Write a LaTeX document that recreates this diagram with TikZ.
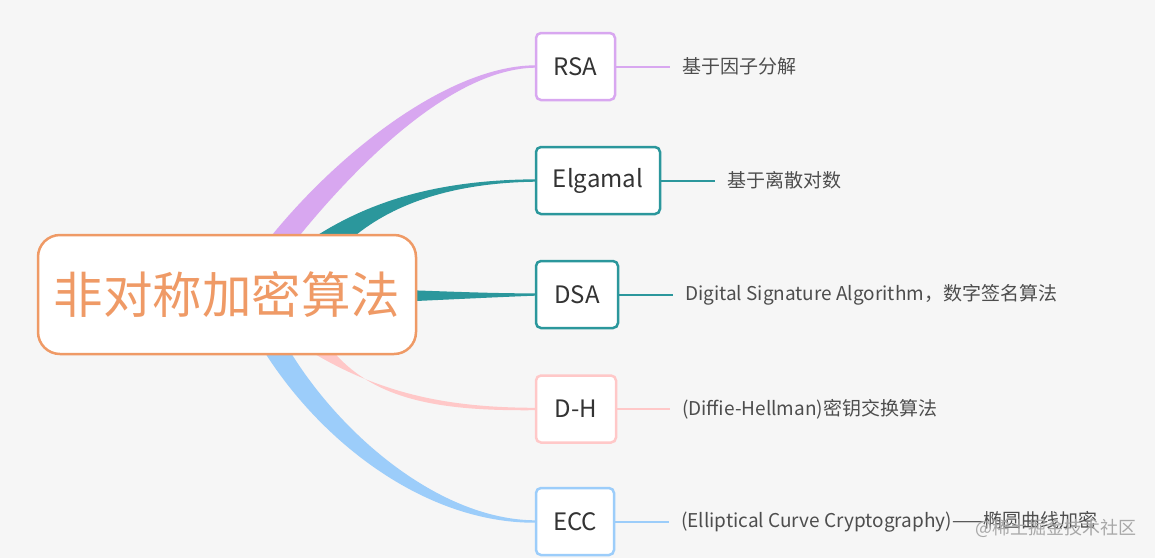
\documentclass[tikz,border=0pt]{standalone}
\usepackage{fontspec}
\newfontfamily\cjk{Noto Sans CJK SC}
\usetikzlibrary{calc}
\pgfdeclarelayer{bg}
\pgfsetlayers{bg,main}
\definecolor{bgc}{HTML}{F6F6F6}
\definecolor{rootc}{HTML}{EF9A66}
\definecolor{purp}{HTML}{D8A7F0}
\definecolor{tealc}{HTML}{2B979C}
\definecolor{pinkc}{HTML}{FFC8C8}
\definecolor{bluec}{HTML}{9CCDFA}
\definecolor{txt}{HTML}{333333}
\definecolor{labtxt}{HTML}{4D4D4D}
\definecolor{wmc}{HTML}{A8A8A8}
\tikzset{
  topic/.style={draw, fill=white, line width=2.5pt, rounded corners=5pt,
    minimum height=67pt, inner sep=0pt,
    font=\cjk\fontsize{24}{27}\selectfont, text=txt},
  lab/.style={anchor=west, inner xsep=12pt, inner ysep=0pt,
    font=\cjk\fontsize{19}{22}\selectfont, text=labtxt},
  leaf/.style={line width=2pt},
}
\begin{document}
\begin{tikzpicture}[x=1pt,y=-1pt]
\useasboundingbox (0,0) rectangle (1155,558);
% root
\node[draw=rootc, fill=white, line width=2.5pt, rounded corners=22pt,
  minimum width=378pt, minimum height=119pt, inner sep=0pt, text=rootc,
  font=\cjk\fontsize{49.5}{55}\selectfont] (root) at (227,294.5) {非对称加密算法};
% topics
\node[topic, draw=purp, minimum width=79pt] (rsa) at (575.5,66.5) {RSA};
\node[topic, draw=tealc, minimum width=124pt] (elg) at (598,180.5) {Elgamal};
\node[topic, draw=tealc, minimum width=82pt] (dsa) at (577,294.5) {DSA};
\node[topic, draw=pinkc, minimum width=80pt] (dh) at (576,409) {D-H};
\node[topic, draw=bluec, minimum width=78pt] (ecc) at (575,521.5) {ECC};
% labels
\node[lab] (rsal) at (670,66.5) {基于因子分解};
\node[lab] (elgl) at (715,180.5) {基于离散对数};
\node[lab] (dsal) at (673,294.5) {Digital Signature Algorithm，数字签名算法};
\node[lab] (dhl) at (670,409) {(Diffie-Hellman)密钥交换算法};
\node[lab] (eccl) at (669,521.5) {(Elliptical Curve Cryptography)——椭圆曲线加密};
\node[anchor=west, inner sep=0pt, text=wmc, font=\cjk\fontsize{18}{20}\selectfont] (wm) at (975,528) {@稀土掘金技术社区};
% leaf connectors
\draw[leaf, purp] (rsa.east) -- (rsal.west);
\draw[leaf, tealc] (elg.east) -- (elgl.west);
\draw[leaf, tealc] (dsa.east) -- (dsal.west);
\draw[leaf, pinkc] (dh.east) -- (dhl.west);
\draw[leaf, bluec] (ecc.east) -- (eccl.west);
\begin{pgfonlayer}{bg}
\fill[bgc] (0,0) rectangle (1155,558);
% branches
\fill[purp] (268,240) .. controls (340,150) and (450,66) .. ($(rsa.west)+(0,-1.2)$)
  -- ($(rsa.west)+(0,1.2)$) .. controls (455,69) and (362,158) .. (296,240) -- cycle;
\fill[tealc] (310,240) .. controls (370,200) and (440,180) .. ($(elg.west)+(0,-1.2)$)
  -- ($(elg.west)+(0,1.2)$) .. controls (450,183) and (390,205) .. (350,240) -- cycle;
\fill[tealc] (405,290) .. controls (460,292) and (500,293.5) .. ($(dsa.west)+(0,-1.2)$)
  -- ($(dsa.west)+(0,1.2)$) .. controls (500,297) and (460,299) .. (405,301.5) -- cycle;
\fill[pinkc] (305,348) .. controls (380,395) and (450,407.5) .. ($(dh.west)+(0,-1.2)$)
  -- ($(dh.west)+(0,1.2)$) .. controls (445,411) and (375,402) .. (332,350) -- cycle;
\fill[bluec] (288,348) .. controls (340,435) and (440,519.5) .. ($(ecc.west)+(0,-1.2)$)
  -- ($(ecc.west)+(0,1.2)$) .. controls (425,523) and (320,442) .. (262,348) -- cycle;
\end{pgfonlayer}
\end{tikzpicture}
\end{document}
